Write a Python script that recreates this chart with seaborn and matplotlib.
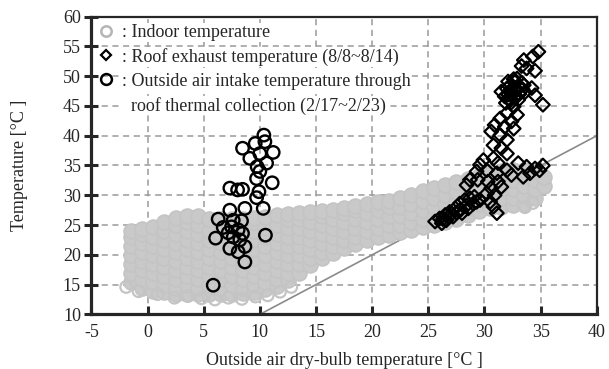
import matplotlib.pyplot as plt
import seaborn as sns
from matplotlib.lines import Line2D

# Indoor temperature cloud, read column by column: outside temp -> indoor temps
indoor_cols = {
    -1.5: [15.5, 17, 18.5, 20, 21.5, 23, 24],
    -0.5: [14.5, 16, 17.5, 19, 20.5, 22, 23.5, 24.3],
    0.5: [14, 15.5, 17, 18.5, 20, 21.5, 23, 24.6],
    1.5: [13.7, 15, 16.5, 18, 19.5, 21, 22.5, 24, 25.5],
    2.5: [13.5, 14.5, 16, 17.5, 19, 20.5, 22, 23.5, 25, 26.2],
    3.5: [13.5, 15, 16.5, 18, 19.5, 21, 22.5, 24, 25.5, 26.5],
    4.5: [13.5, 14.5, 16, 17.5, 19, 20.5, 22, 23.5, 25, 26.5],
    5.5: [13.5, 15, 16.5, 18, 19.5, 21, 22.5, 24, 26],
    6.5: [13.5, 14.5, 16, 17.5, 19, 20.5, 22, 23.5, 25, 26],
    7.5: [13.5, 15, 16.5, 18, 19.5, 21, 22.5, 24, 26],
    8.5: [13.6, 14.5, 16, 17.5, 19, 20.5, 22, 23.5, 25, 26.1],
    9.5: [13.8, 15, 16.5, 18, 19.5, 21, 22.5, 24, 25.5, 26.2],
    10.5: [14.2, 15.5, 17, 18.5, 20, 21.5, 23, 24.5, 26.4],
    11.5: [14.8, 16, 17.5, 19, 20.5, 22, 23.5, 25, 26.7],
    12.5: [15.8, 17, 18.5, 20, 21.5, 23, 24.5, 26, 26.9],
    13.5: [17, 18.5, 20, 21.5, 23, 24.5, 26, 27],
    14.5: [18.3, 19.5, 21, 22.5, 24, 25.5, 27.2],
    15.5: [19.4, 20.5, 22, 23.5, 25, 26.5, 27.4],
    16.5: [20.3, 21.5, 23, 24.5, 26, 27.6],
    17.5: [21.2, 22.5, 24, 25.5, 27, 27.9],
    18.5: [21.9, 23, 24.5, 26, 27.5, 28.2],
    19.5: [22.5, 24, 25.5, 27, 28.5],
    20.5: [23, 24.5, 26, 27.5, 28.8],
    21.5: [23.4, 25, 26.5, 28, 29.1],
    22.5: [23.8, 25, 26.5, 28, 29.5],
    23.5: [24.2, 25.5, 27, 28.5, 30.1],
    24.5: [24.6, 26, 27.5, 29, 30.7],
    25.5: [25, 26.5, 28, 29.5, 31.3],
    26.5: [25.5, 27, 28.5, 30, 31.8],
    27.5: [26.1, 27.5, 29, 30.5, 32.3],
    28.5: [26.7, 28, 29.5, 31, 32.8],
    29.5: [27.3, 28.5, 30, 31.5, 33.3],
    30.5: [27.9, 29, 30.5, 32, 33.7],
    31.5: [28, 29.5, 31, 32.5, 34],
    32.5: [28.3, 29.5, 31, 32.5, 34.2],
    33.5: [28.5, 30, 31.5, 33, 34.3],
    34.5: [29.5, 31, 32.5, 34],
    35.3: [31.5, 33],
}
# loose indoor points on the lower edge of the cloud
indoor_edge_x = [-1.9, -0.8, 0.9, 2.4, 3.6, 4.8, 6.0, 7.2, 8.4, 9.6, 10.7, 11.8, 12.8, 33.6, 34.3]
indoor_edge_y = [14.6, 13.9, 13.4, 12.8, 13.1, 12.7, 12.5, 12.8, 12.6, 13.0, 13.2, 13.8, 14.6, 28.0, 28.7]

# Roof exhaust temperature (8/8~8/14)
roof_x = [34.8, 34.3, 33.5, 33.3, 34.5, 33.75, 32.1, 32.6, 31.5, 31.8, 32.3, 32.9,
          33.5, 34.2, 34.5, 35.2, 33.0, 32.6, 32.9, 32.0, 31.4, 32.4, 30.9, 31.8,
          32.6, 30.6, 31.4, 32.0, 30.8, 31.5, 32.0, 29.9, 30.8, 31.2, 29.6, 33.0,
          33.75, 34.5, 35.2, 34.9, 34.05, 33.45, 29.3, 30.2, 31.1, 32.0, 32.4, 28.7,
          29.4, 30.3, 31.2, 28.4, 30.6, 31.5, 30.2, 30.9, 29.6, 30.5, 29.3, 31.1,
          30.8, 25.6, 26.0, 26.5, 26.9, 27.4, 27.8, 28.25, 28.7, 29.1, 26.6, 27.2,
          28.0, 28.55, 29.0, 26.2, 32.2, 32.7, 33.1, 32.5, 32.0, 33.6, 32.8, 31.9,
          32.4, 33.3, 32.9, 26.3, 26.8, 27.5, 27.9, 28.4, 27.1,
          32.3, 32.6, 33.0, 32.1, 33.4, 32.7]
roof_y = [54.1, 53.3, 52.7, 51.7, 50.9, 51.3, 49.1, 49.5, 47.4, 46.6, 46.0, 47.7,
          48.5, 48.0, 46.8, 45.2, 46.0, 44.9, 43.5, 43.8, 42.9, 42.4, 41.8, 41.5,
          41.2, 40.7, 40.1, 39.3, 38.4, 37.9, 37.0, 35.9, 36.2, 35.4, 35.1, 35.4,
          34.8, 34.5, 35.0, 34.2, 33.7, 33.1, 34.0, 34.2, 33.7, 34.2, 33.4, 32.6,
          32.6, 32.3, 32.3, 31.7, 31.2, 31.4, 30.3, 30.0, 29.2, 28.9, 28.9, 27.0,
          28.1, 25.6, 26.1, 26.7, 27.2, 27.8, 28.6, 29.2, 29.5, 29.75, 25.8, 26.4,
          27.0, 27.8, 28.6, 25.3, 48.3, 48.0, 47.0, 47.2, 47.9, 47.3, 46.5, 45.5,
          45.6, 48.9, 49.6, 26.0, 26.4, 27.1, 27.6, 28.3, 26.9,
          47.6, 46.4, 48.3, 46.9, 47.8, 49.0]

# Outside air intake through roof thermal collection (2/17~2/23)
intake_x = [10.36, 10.45, 9.59, 8.46, 11.19, 10.0, 9.11, 10.6, 9.76, 10.0, 9.71, 11.1,
            7.33, 8.02, 8.46, 9.92, 9.71, 7.33, 8.67, 10.3, 6.29, 7.63, 8.37, 6.74,
            7.48, 8.07, 7.18, 8.46, 10.5, 6.06, 7.63, 8.22, 7.33, 8.67, 8.07, 8.67, 5.85]
intake_y = [40.1, 39.0, 38.7, 37.9, 37.2, 37.0, 36.2, 35.4, 34.8, 34.0, 32.8, 32.1,
            31.2, 30.9, 31.0, 30.6, 29.6, 27.5, 27.8, 27.8, 26.0, 25.8, 25.7, 24.6,
            24.7, 24.2, 23.7, 23.6, 23.3, 22.8, 23.0, 22.5, 21.1, 21.4, 20.5, 18.8, 14.9]

# reference line (indoor = outside)
ref_x = [10, 40]
ref_y = [10, 40]

indoor_x = [x for x, ys in indoor_cols.items() for _ in ys]
indoor_y = [y for ys in indoor_cols.values() for y in ys]

sns.set_style('ticks')
plt.rcParams['font.family'] = ['Liberation Serif', 'DejaVu Serif']
plt.rcParams['axes.unicode_minus'] = False

fig = plt.figure(figsize=(6.09, 3.69), dpi=100)
ax = fig.add_axes([0.150, 0.148, 0.830, 0.807])

gray = '#c9c9c9'
sns.lineplot(x=ref_x, y=ref_y, color='#8a8a8a', linewidth=1.2, ax=ax, zorder=1.5)
sns.scatterplot(x=indoor_x, y=indoor_y, s=115, color=gray, edgecolor='#c4c4c4',
                linewidth=1.2, ax=ax, zorder=2, legend=False)
sns.scatterplot(x=indoor_edge_x, y=indoor_edge_y, s=70, facecolor='none',
                edgecolor='#c4c4c4', linewidth=1.6, ax=ax, zorder=2, legend=False)
sns.scatterplot(x=roof_x, y=roof_y, marker='D', s=48, facecolor='none',
                edgecolor='black', linewidth=1.6, ax=ax, zorder=3, legend=False)
sns.scatterplot(x=intake_x, y=intake_y, s=80, facecolor='none',
                edgecolor='black', linewidth=1.7, ax=ax, zorder=4, legend=False)

ax.set_xlim(-5, 40)
ax.set_ylim(10, 60)
ax.set_xticks(range(-5, 41, 5))
ax.set_yticks(range(10, 61, 5))
ax.grid(True, linestyle=(0, (4, 3)), color='#9a9a9a', linewidth=1.1)
ax.set_axisbelow(True)

for side in ['left', 'bottom']:
    ax.spines[side].set_linewidth(2.3)
for side in ['top', 'right']:
    ax.spines[side].set_linewidth(1.6)
ax.tick_params(axis='x', direction='in', length=6, width=2.2, labelsize=13, pad=7)
ax.tick_params(axis='y', direction='inout', length=10, width=2.2, labelsize=13, pad=2.5)

ax.set_xlabel('Outside air dry-bulb temperature [°C ]', fontsize=13, labelpad=8)
ax.set_ylabel('Temperature [°C ]', fontsize=13, labelpad=25)

handles = [
    Line2D([], [], marker='o', ls='none', mfc='none', mec='#b5b5b5', ms=7.5, mew=1.8),
    Line2D([], [], marker='D', ls='none', mfc='none', mec='black', ms=5.2, mew=1.6),
    Line2D([], [], marker='o', ls='none', mfc='none', mec='black', ms=7.8, mew=1.8),
    Line2D([], [], ls='none'),
]
labels = [': Indoor temperature',
          ': Roof exhaust temperature (8/8~8/14)',
          ': Outside air intake temperature through',
          '  roof thermal collection (2/17~2/23)']
leg = ax.legend(handles, labels, loc='upper left', bbox_to_anchor=(0.012, 0.975),
                frameon=False, fontsize=13, handlelength=1.0, handletextpad=0.35,
                labelspacing=0.38, borderaxespad=0, borderpad=0)
for t in leg.get_texts():
    t.set_bbox(dict(facecolor='white', edgecolor='none', pad=0.5))

fig.savefig('out.png', dpi=100, facecolor='white')
